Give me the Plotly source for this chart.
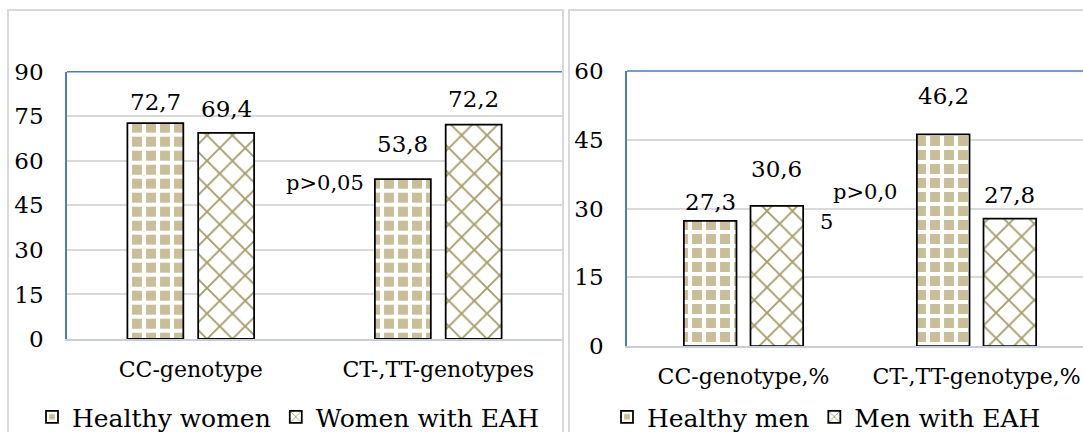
import plotly.graph_objects as go

# ---------------- data ----------------
categories_women = ["CC-genotype", "CT-,TT-genotypes"]
categories_men = ["CC-genotype,%", "CT-,TT-genotype,%"]
healthy_women = [72.7, 53.8]
women_eah = [69.4, 72.2]
healthy_men = [27.3, 46.2]
men_eah = [30.6, 27.8]
yticks_women = [0, 15, 30, 45, 60, 75, 90]
yticks_men = [0, 15, 30, 45, 60]
names_women = ["Healthy women", "Women with EAH"]
names_men = ["Healthy men", "Men with EAH"]
p_note_women = "p>0,05"
p_note_men = ["p>0,0", "5"]

# ---------------- style ----------------
W, H = 1083, 432
FONT = "DejaVu Serif"
TAN = "#C9BE98"
OLIVE = "#A59D68"
BLUE = "#4A7BC4"
GRID = "#D9D9D9"
AXIS = "#C8CDD6"
BAR_W = 0.226
OFFSETS = [-0.256, 0.030]
LIFT_W = [[6, 20], [9, 11]]
LIFT_M = [[4, 23], [22, 9]]


def px_x(p):
    return p / W


def px_y(p):
    return 1 - p / H


pat_healthy = dict(shape="+", fillmode="replace", bgcolor=TAN, fgcolor="white", size=14, solidity=0.5)
pat_eah = dict(shape="x", fillmode="replace", bgcolor="white", fgcolor=OLIVE, size=18, solidity=0.2)
patterns = [pat_healthy, pat_eah]

fig = go.Figure()
annotations = []


def fmt(v):
    return f"{v:.1f}".replace(".", ",")


def add_panel(series_list, names, cats, xa, ya, legend_id, lifts):
    idx = list(range(len(cats)))
    for s, (vals, name) in enumerate(zip(series_list, names)):
        fig.add_trace(go.Bar(
            x=idx, y=vals, name=name, width=BAR_W, offset=OFFSETS[s],
            marker=dict(color=patterns[s]["bgcolor"], pattern=patterns[s],
                        line=dict(color="black", width=1.75)),
            xaxis=xa, yaxis=ya, legend=legend_id, hoverinfo="skip",
        ))
        for i, v in enumerate(vals):
            annotations.append(dict(
                x=i + OFFSETS[s] + BAR_W / 2, y=v, xref=xa, yref=ya,
                text=fmt(v), showarrow=False, yanchor="bottom", xanchor="center",
                yshift=lifts[s][i], font=dict(family=FONT, size=23, color="black"),
            ))


add_panel([healthy_women, women_eah], names_women, categories_women, "x", "y", "legend", LIFT_W)
add_panel([healthy_men, men_eah], names_men, categories_men, "x2", "y2", "legend2", LIFT_M)

axis_font = dict(family=FONT, size=23, color="black")
cat_font = dict(family=FONT, size=22, color="black")
legend_font = dict(family=FONT, size=25, color="black")

xcommon = dict(showgrid=False, zeroline=False, showline=True, linecolor=AXIS, linewidth=2,
               ticks="outside", ticklen=0, tickfont=cat_font, ticklabelstandoff=10, fixedrange=True)
ycommon = dict(showgrid=True, gridcolor=GRID, gridwidth=1.5, zeroline=False, showline=True,
               linecolor=BLUE, linewidth=1.5, ticks="outside", ticklen=0, tickfont=axis_font,
               ticklabelstandoff=17, fixedrange=True)

fig.update_layout(
    width=W, height=H, margin=dict(l=0, r=0, t=0, b=0, autoexpand=False),
    paper_bgcolor="white", plot_bgcolor="white",
    font=dict(family=FONT, color="black"),
    barmode="group",
    xaxis=dict(domain=[px_x(67), px_x(562)], range=[-0.5, 1.5], anchor="y",
               tickvals=list(range(len(categories_women))), ticktext=categories_women, **xcommon),
    yaxis=dict(domain=[px_y(339), px_y(71.7)], range=[0, 90], anchor="x",
               tickvals=yticks_women, **ycommon),
    xaxis2=dict(domain=[px_x(627), 1], range=[-0.5, 1.457], anchor="y2",
                tickvals=list(range(len(categories_men))), ticktext=categories_men, **xcommon),
    yaxis2=dict(domain=[px_y(346), px_y(71)], range=[0, 60], anchor="x2",
                tickvals=yticks_men, **ycommon),
    legend=dict(orientation="h", x=px_x(32), xanchor="left", y=px_y(417), yanchor="middle",
                font=legend_font, bgcolor="rgba(0,0,0,0)"),
    legend2=dict(orientation="h", x=px_x(607), xanchor="left", y=px_y(417), yanchor="middle",
                 font=legend_font, bgcolor="rgba(0,0,0,0)"),
)

note_font = dict(family=FONT, size=21, color="black")
annotations.append(dict(x=px_x(284), y=px_y(183), xref="paper", yref="paper", text=p_note_women,
                        showarrow=False, xanchor="left", yanchor="middle", font=note_font))
annotations.append(dict(x=px_x(831), y=px_y(192), xref="paper", yref="paper", text=p_note_men[0],
                        showarrow=False, xanchor="left", yanchor="middle", font=note_font))
annotations.append(dict(x=px_x(818), y=px_y(222), xref="paper", yref="paper", text=p_note_men[1],
                        showarrow=False, xanchor="left", yanchor="middle", font=note_font))
fig.update_layout(annotations=annotations)

shapes = [
    dict(type="rect", xref="paper", yref="paper", x0=px_x(8), x1=px_x(563), y0=-0.2, y1=px_y(10),
         line=dict(color=GRID, width=2), fillcolor="rgba(0,0,0,0)", layer="below"),
    dict(type="rect", xref="paper", yref="paper", x0=px_x(569), x1=1.1, y0=-0.2, y1=px_y(10),
         line=dict(color=GRID, width=2), fillcolor="rgba(0,0,0,0)", layer="below"),
    dict(type="line", xref="x domain", yref="y domain", x0=0, x1=1, y0=1, y1=1,
         line=dict(color=BLUE, width=1.5)),
    dict(type="line", xref="x2 domain", yref="y2 domain", x0=0, x1=1, y0=1, y1=1,
         line=dict(color=BLUE, width=1.5)),
]
fig.update_layout(shapes=shapes)

fig.write_html(
    "out.html",
    config={"displayModeBar": False},
    post_script="document.documentElement.style.margin='0';document.body.style.margin='0';"
                "document.body.style.overflow='hidden';",
)
